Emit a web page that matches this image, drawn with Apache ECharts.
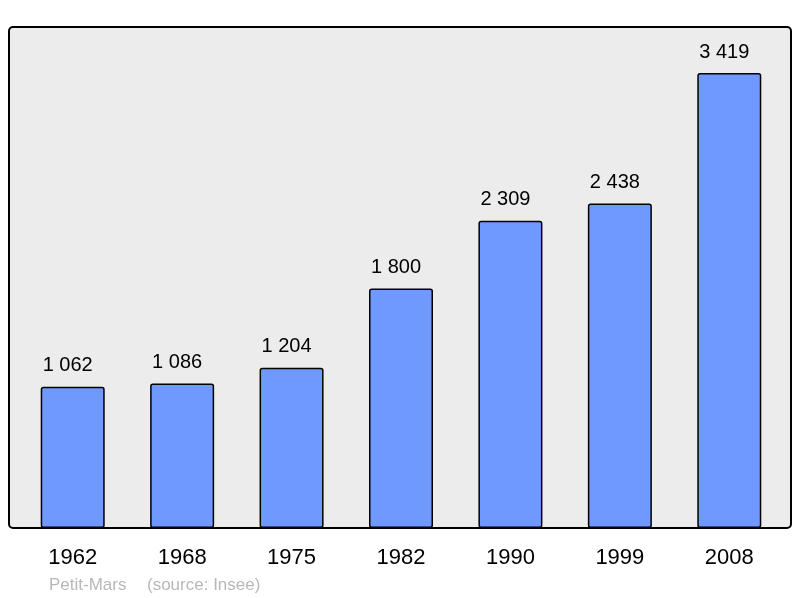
<!DOCTYPE html>
<html><head><meta charset="utf-8">
<script src="https://cdn.jsdelivr.net/npm/echarts@6/dist/echarts.min.js"></script>
<style>html,body{margin:0;padding:0;background:#fff}#c{width:800px;height:598px}</style>
</head><body><div id="c"></div>
<script>
const years = ['1962','1968','1975','1982','1990','1999','2008'];
const population = [1062, 1086, 1204, 1800, 2309, 2438, 3419];
const communeName = 'Petit-Mars';
const sourceText = '(source: Insee)';

const chart = echarts.init(document.getElementById('c'), null, {renderer: 'canvas'});
chart.setOption({
  animation: false,
  backgroundColor: '#ffffff',
  grid: {left: 18, top: 27, width: 766, height: 501},
  xAxis: {
    type: 'category', data: years,
    axisLine: {show: false}, axisTick: {show: false},
    axisLabel: {color: '#000', fontSize: 22, fontFamily: 'Liberation Sans', margin: 19}
  },
  yAxis: {
    type: 'value', min: 0, max: 3765,
    show: false, splitLine: {show: false}
  },
  graphic: [
    {type: 'rect', z: -10, silent: true,
     shape: {x: 9, y: 27, width: 782, height: 501, r: 4},
     style: {fill: '#ececec', stroke: '#000', lineWidth: 2}},
    {type: 'text', left: 49, top: 577,
     style: {text: communeName, fill: '#b8b8b8', font: '17px "Liberation Sans"'}},
    {type: 'text', left: 147, top: 577,
     style: {text: sourceText, fill: '#b8b8b8', font: '17px "Liberation Sans"'}}
  ],
  series: [{
    type: 'bar', data: population, barWidth: 64,
    itemStyle: {color: '#6f99ff', borderColor: '#000', borderWidth: 1.5, borderRadius: 2},
    label: {show: true, position: 'top', distance: 11, offset: [-5, 0], color: '#000', fontSize: 20,
      fontFamily: 'Liberation Sans',
      formatter: p => String(p.value).replace(/\B(?=(\d{3})+(?!\d))/g, ' ')}
  }]
});
</script></body></html>
